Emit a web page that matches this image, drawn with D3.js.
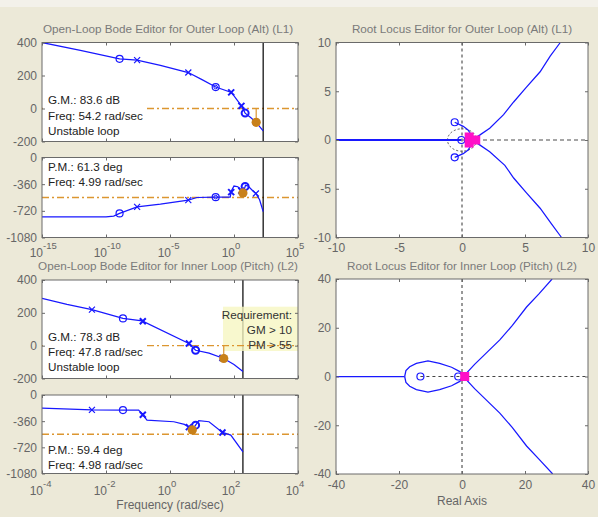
<!DOCTYPE html>
<html>
<head>
<meta charset="utf-8">
<script src="https://cdn.jsdelivr.net/npm/d3@7"></script>
<style>
  body { margin: 0; background: #ece9d8; }
</style>
</head>
<body>
<div id="container"></div>
<script>
/* CONSTANTS AND GLOBALS */
const width = 598,
  height = 517,
  font = "'Liberation Sans', Arial, sans-serif",
  blue = "#1818ff",
  orange = "#dc9630",
  orangeDot = "#c88019",
  magenta = "#ff10c8",
  axisColor = "#6a6a6a",
  labelColor = "#666666",
  titleColor = "#7a7a7a";

/* DATA */
// Bode curves: [log10(frequency rad/sec), dB or deg]
const outerMag = [[-15, 400], [-12, 352], [-8.94, 301], [-7.57, 293], [-5.75, 261], [-3.57, 218],
  [-2.5, 175], [-1.43, 130], [-0.2, 97], [0.58, 16], [0.87, -28], [1.3, -55], [1.73, -84], [2.28, -136]];
const outerPhase = [[-15, -800], [-10, -800], [-9.4, -790], [-8.94, -755], [-7.57, -667], [-5.75, -630],
  [-3.57, -576], [-2.9, -540], [-1.43, -535], [-0.3, -535], [-0.2, -450], [0, -385], [0.3, -395],
  [0.55, -440], [0.7, -479], [0.8, -430], [0.9, -375], [1.1, -385], [1.5, -455], [1.71, -486],
  [2.0, -570], [2.28, -730]];
const innerMag = [[-4, 288], [-3.22, 251], [-2.44, 220], [-1.47, 166], [-0.87, 151], [0.59, 13],
  [0.8, -28], [1.22, -45], [1.68, -78], [2.0, -115], [2.28, -158]];
const innerPhase = [[-4, -180], [-2.44, -205], [-1.47, -207], [-0.98, -207], [-0.84, -276], [-0.72, -345],
  [0.12, -368], [0.45, -405], [0.62, -450], [0.7, -480], [0.8, -415], [0.9, -354], [1.22, -368],
  [1.64, -515], [1.9, -551], [2.28, -782]];

// poles "x" and zeros "o" on the bode curves (capital = double)
const outerMarks = [[-8.94, "o"], [-7.57, "x"], [-3.57, "x"], [-1.43, "oo"], [-0.22, "X"], [0.58, "X"], [0.87, "O"], [1.71, "x"]];
const innerMarks = [[-2.44, "x"], [-1.47, "o"], [-0.85, "X"], [0.59, "X"], [0.8, "O"], [1.64, "X"]];

// margins
const outerGM = { dB: 83.6, freq: 54.2 }, outerPM = { deg: 61.3, freq: 4.99 };
const innerGM = { dB: 78.3, freq: 47.8 }, innerPM = { deg: 59.4, freq: 4.98 };
const nyquist = 190; // rad/sec
const pmLine = -540;

// root locus, outer loop (Alt)
const rlOuterReal = [[-10, 0], [-0.05, 0]];
const rlOuterZeroUp = [[-0.58, 1.82], [0.1, 1.4], [0.48, 1.03], [0.74, 0.51]];
const rlOuterZeroDn = [[-0.58, -1.78], [0.1, -1.4], [0.48, -1.03], [0.74, -0.51]];
const rlOuterUp = [[1.1, 0.25], [1.4, 0.5], [2.2, 1.2], [3.3, 2.6], [4.1, 3.9], [5.1, 5.4], [6.2, 7.0], [7.0, 8.6], [7.8, 10]];
const rlOuterDn = [[1.1, -0.25], [1.4, -0.5], [2.2, -1.2], [3.4, -2.6], [4.1, -3.9], [5.1, -5.4], [6.2, -7.0], [7.1, -8.6], [7.9, -10]];
const rlOuterZeros = [[-0.58, 1.82], [-0.58, -1.78], [-0.05, 0]];
const rlOuterPoles = [[0.57, 0.31], [0.57, -0.31], [1.09, 0]];
const rlOuterWn = 1.15;

// root locus, inner loop (Pitch)
const rlInnerReal = [[-40, 0], [-18.2, 0]];
const rlInnerLoopUp = [[-18.2, 0], [-17.8, 2.4], [-16.6, 4.0], [-14.5, 5.4], [-10.8, 6.4], [-7.1, 5.4], [-3.3, 3.8], [-0.7, 2.0], [0.3, 0.6]];
const rlInnerLoopDn = [[-18.2, 0], [-17.8, -2.4], [-16.6, -4.0], [-14.5, -5.4], [-10.8, -6.4], [-7.1, -5.4], [-3.3, -3.8], [-0.7, -2.0], [0.3, -0.6]];
const rlInnerUp = [[0.9, 0], [1.5, 1.5], [4, 5], [8, 10], [12, 15], [16, 21], [20.5, 28.5], [24.5, 34], [28.6, 40]];
const rlInnerDn = [[0.9, 0], [1.5, -1.5], [4, -5], [8, -10], [12, -15], [16, -21], [20.5, -28.5], [24.5, -34], [28.8, -40]];
const rlInnerZeros = [[-13.2, 0], [-1.2, 0]];
const rlInnerPoles = [[0.86, 0]];

// ticks and texts
const magTicks = [400, 200, 0, -200];
const phaseTicks = [0, -360, -720, -1080];
const outerFreqExp = [-15, -10, -5, 0, 5];
const innerFreqExp = [-4, -2, 0, 2, 4];
const rlOuterTicks = [-10, -5, 0, 5, 10];
const rlInnerTicks = [-40, -20, 0, 20, 40];
const titles = ["Open-Loop Bode Editor for Outer Loop (Alt) (L1)", "Open-Loop Bode Editor for Inner Loop (Pitch) (L2)",
  "Root Locus Editor for Outer Loop (Alt) (L1)", "Root Locus Editor for Inner Loop (Pitch) (L2)"];
const outerMagText = ["G.M.: 83.6 dB", "Freq: 54.2 rad/sec", "Unstable loop"];
const outerPhaseText = ["P.M.: 61.3 deg", "Freq: 4.99 rad/sec"];
const innerMagText = ["G.M.: 78.3 dB", "Freq: 47.8 rad/sec", "Unstable loop"];
const innerPhaseText = ["P.M.: 59.4 deg", "Freq: 4.98 rad/sec"];
const requirementText = ["Requirement:", "GM > 10", "PM > 55"];

/* SVG */
const svg = d3.select("#container")
  .append("svg")
  .attr("width", width)
  .attr("height", height)
  .style("display", "block");

svg.append("rect").attr("width", width).attr("height", height).attr("fill", "#ece9d8");
svg.append("rect").attr("width", width).attr("height", 7).attr("fill", "#f3f1ea");

const boxes = {
  oMag: { x0: 42, x1: 298, y0: 42.5, y1: 141.5 },
  oPh: { x0: 42, x1: 298, y0: 157.5, y1: 237.5 },
  iMag: { x0: 42, x1: 298, y0: 280, y1: 378.5 },
  iPh: { x0: 42, x1: 298, y0: 395, y1: 473.5 },
  oRL: { x0: 336, x1: 588, y0: 42.5, y1: 237.5 },
  iRL: { x0: 336, x1: 588, y0: 279, y1: 474 }
};

// SCALES
const xOuter = d3.scaleLog().domain([1e-15, 1e5]).range([42, 298]);
const xInner = d3.scaleLog().domain([1e-4, 1e4]).range([42, 298]);
const yMagO = d3.scaleLinear().domain([-200, 400]).range([boxes.oMag.y1, boxes.oMag.y0]);
const yPhO = d3.scaleLinear().domain([-1080, 0]).range([boxes.oPh.y1, boxes.oPh.y0]);
const yMagI = d3.scaleLinear().domain([-200, 400]).range([boxes.iMag.y1, boxes.iMag.y0]);
const yPhI = d3.scaleLinear().domain([-1080, 0]).range([boxes.iPh.y1, boxes.iPh.y0]);
const rxO = d3.scaleLinear().domain([-10, 10]).range([boxes.oRL.x0, boxes.oRL.x1]);
const ryO = d3.scaleLinear().domain([-10, 10]).range([boxes.oRL.y1, boxes.oRL.y0]);
const rxI = d3.scaleLinear().domain([-40, 40]).range([boxes.iRL.x0, boxes.iRL.x1]);
const ryI = d3.scaleLinear().domain([-40, 40]).range([boxes.iRL.y1, boxes.iRL.y0]);

// HELPERS
function makePanel(id, b) {
  svg.append("clipPath").attr("id", id).append("rect")
    .attr("x", b.x0).attr("y", b.y0).attr("width", b.x1 - b.x0).attr("height", b.y1 - b.y0);
  svg.append("rect")
    .attr("x", b.x0).attr("y", b.y0).attr("width", b.x1 - b.x0).attr("height", b.y1 - b.y0)
    .attr("fill", "#fff");
  return svg.append("g").attr("clip-path", `url(#${id})`);
}

function styleAxis(sel) {
  sel.select(".domain").remove();
  sel.selectAll(".tick line").attr("stroke", axisColor);
  sel.selectAll(".tick text").attr("fill", labelColor).attr("font-size", 12).attr("font-family", font);
}

function frame(b, x, y, xTicks, yTicks, xLabels) {
  svg.append("g").attr("transform", `translate(${b.x0},0)`)
    .call(d3.axisLeft(y).tickValues(yTicks).tickSize(-3).tickPadding(5).tickFormat(d => String(d)))
    .call(styleAxis);
  svg.append("g").attr("transform", `translate(${b.x1},0)`)
    .call(d3.axisRight(y).tickValues(yTicks).tickSize(-3).tickFormat(""))
    .call(styleAxis);
  svg.append("g").attr("transform", `translate(0,${b.y1})`)
    .call(d3.axisBottom(x).tickValues(xTicks).tickSize(-3).tickPadding(6)
      .tickFormat(xLabels ? (d => String(d)) : ""))
    .call(styleAxis);
  svg.append("g").attr("transform", `translate(0,${b.y0})`)
    .call(d3.axisTop(x).tickValues(xTicks).tickSize(-3).tickFormat(""))
    .call(styleAxis);
  svg.append("rect")
    .attr("x", b.x0).attr("y", b.y0).attr("width", b.x1 - b.x0).attr("height", b.y1 - b.y0)
    .attr("fill", "none").attr("stroke", axisColor).attr("stroke-width", 1);
}

function freqLabels(x, exps, baseY) {
  exps.forEach(e => {
    svg.append("text").attr("x", x(10 ** e) + 1).attr("y", baseY)
      .attr("text-anchor", "end").attr("font-family", font).attr("font-size", 12)
      .attr("fill", labelColor).text("10");
    svg.append("text").attr("x", x(10 ** e) + 1).attr("y", baseY - 8)
      .attr("font-family", font).attr("font-size", 9.5)
      .attr("fill", labelColor).text(String(e));
  });
}

function valueAt(curve, lf) {
  const i = d3.bisector(d => d[0]).left(curve, lf);
  const a = curve[Math.max(i - 1, 0)], b = curve[Math.min(i, curve.length - 1)];
  if (a === b) return a[1];
  return a[1] + (b[1] - a[1]) * (lf - a[0]) / (b[0] - a[0]);
}

function marker(g, type, cx, cy) {
  const sw = (type === "O" || type === "X") ? 2 : 1.2;
  if (type.toLowerCase().startsWith("o")) {
    g.append("circle").attr("cx", cx).attr("cy", cy).attr("r", 3.5)
      .attr("fill", "none").attr("stroke", blue).attr("stroke-width", sw);
    if (type === "oo") {
      g.append("circle").attr("cx", cx).attr("cy", cy).attr("r", 1.8)
        .attr("fill", "none").attr("stroke", blue).attr("stroke-width", 1);
    }
  } else {
    g.append("path")
      .attr("d", `M${cx - 3},${cy - 3}L${cx + 3},${cy + 3}M${cx - 3},${cy + 3}L${cx + 3},${cy - 3}`)
      .attr("stroke", blue).attr("stroke-width", sw);
  }
}

function bodeCurve(g, x, y, curve, marks) {
  const line = d3.line().x(d => x(10 ** d[0])).y(d => y(d[1]));
  g.append("path").attr("d", line(curve)).attr("fill", "none").attr("stroke", blue).attr("stroke-width", 1.25);
  marks.forEach(([lf, type]) => marker(g, type, x(10 ** lf), y(valueAt(curve, lf))));
}

function textBlock(g, lines, x0, x1, top, bottom, baseline0) {
  g.append("rect").attr("x", x0).attr("y", top).attr("width", x1 - x0).attr("height", bottom - top).attr("fill", "#fff");
  lines.forEach((t, i) => {
    g.append("text").attr("x", x0 + 5).attr("y", baseline0 + i * 15.2)
      .attr("font-family", font).attr("font-size", 11.7).attr("fill", "#222").text(t);
  });
}

function nyquistLine(g, x, b) {
  g.append("line").attr("x1", x(nyquist)).attr("x2", x(nyquist)).attr("y1", b.y0).attr("y2", b.y1)
    .attr("stroke", "#000").attr("stroke-width", 1.2);
}

function marginLine(g, x, y, level, b) {
  g.append("line").attr("x1", b.x0).attr("x2", b.x1).attr("y1", y(level)).attr("y2", y(level))
    .attr("stroke", orange).attr("stroke-width", 1.3).attr("stroke-dasharray", "7,3,2,3");
}

function marginDot(g, x, y, freq, level, value) {
  g.append("line").attr("x1", x(freq)).attr("x2", x(freq)).attr("y1", y(level)).attr("y2", y(value))
    .attr("stroke", orange).attr("stroke-width", 1.2);
  g.append("circle").attr("cx", x(freq)).attr("cy", y(value)).attr("r", 4.6).attr("fill", orangeDot);
}

function title(t, cx, y) {
  svg.append("text").attr("x", cx).attr("y", y).attr("text-anchor", "middle")
    .attr("font-family", font).attr("font-size", 11.7).attr("fill", titleColor).text(t);
}

/* OUTER LOOP BODE */
const gA = makePanel("cA", boxes.oMag);
marginLine(gA, xOuter, yMagO, 0, boxes.oMag);
textBlock(gA, outerMagText, 43, 147, 93, 140, 104.3);
nyquistLine(gA, xOuter, boxes.oMag);
bodeCurve(gA, xOuter, yMagO, outerMag, outerMarks);
marginDot(gA, xOuter, yMagO, outerGM.freq, 0, -outerGM.dB);
frame(boxes.oMag, xOuter, yMagO, outerFreqExp.map(e => 10 ** e), magTicks, false);

const gB = makePanel("cB", boxes.oPh);
marginLine(gB, xOuter, yPhO, pmLine, boxes.oPh);
textBlock(gB, outerPhaseText, 43, 147, 159, 190, 171);
nyquistLine(gB, xOuter, boxes.oPh);
bodeCurve(gB, xOuter, yPhO, outerPhase, outerMarks);
marginDot(gB, xOuter, yPhO, outerPM.freq, pmLine, pmLine + outerPM.deg);
frame(boxes.oPh, xOuter, yPhO, outerFreqExp.map(e => 10 ** e), phaseTicks, false);
freqLabels(xOuter, outerFreqExp, 256.5);

/* INNER LOOP BODE */
const gC = makePanel("cC", boxes.iMag);
nyquistLine(gC, xInner, boxes.iMag);
gC.append("rect").attr("x", 223).attr("y", 306.7).attr("width", 76).attr("height", 44.3)
  .attr("fill", "#f6f6c0").attr("opacity", 0.78);
marginLine(gC, xInner, yMagI, 0, boxes.iMag);
textBlock(gC, innerMagText, 43, 144, 329, 377, 341);
bodeCurve(gC, xInner, yMagI, innerMag, innerMarks);
marginDot(gC, xInner, yMagI, innerGM.freq, 0, -innerGM.dB);
requirementText.forEach((t, i) => {
  gC.append("text").attr("x", 292).attr("y", 318.5 + i * 15.1).attr("text-anchor", "end")
    .attr("font-family", font).attr("font-size", 11.7).attr("fill", "#333").text(t);
});
frame(boxes.iMag, xInner, yMagI, innerFreqExp.map(e => 10 ** e), magTicks, false);

const gD = makePanel("cD", boxes.iPh);
marginLine(gD, xInner, yPhI, pmLine, boxes.iPh);
nyquistLine(gD, xInner, boxes.iPh);
bodeCurve(gD, xInner, yPhI, innerPhase, innerMarks);
marginDot(gD, xInner, yPhI, innerPM.freq, pmLine, pmLine + innerPM.deg);
textBlock(gD, innerPhaseText, 43, 147, 442, 472, 453.7);
frame(boxes.iPh, xInner, yPhI, innerFreqExp.map(e => 10 ** e), phaseTicks, false);
freqLabels(xInner, innerFreqExp, 495);

svg.append("text").attr("x", 170).attr("y", 509).attr("text-anchor", "middle")
  .attr("font-family", font).attr("font-size", 12).attr("fill", labelColor).text("Frequency (rad/sec)");

/* ROOT LOCUS */
function locus(g, x, y, pts, w) {
  const line = d3.line().x(d => x(d[0])).y(d => y(d[1]));
  g.append("path").attr("d", line(pts)).attr("fill", "none").attr("stroke", blue).attr("stroke-width", w || 1.25);
}
function squares(g, x, y, pts) {
  pts.forEach(p => g.append("rect").attr("x", x(p[0]) - 4.5).attr("y", y(p[1]) - 4.5)
    .attr("width", 9).attr("height", 9).attr("fill", magenta));
}
function zeros(g, x, y, pts) {
  pts.forEach(p => g.append("circle").attr("cx", x(p[0])).attr("cy", y(p[1])).attr("r", 3.5)
    .attr("fill", "none").attr("stroke", blue).attr("stroke-width", 1.2));
}

const gE = makePanel("cE", boxes.oRL);
gE.append("line").attr("x1", rxO(0)).attr("x2", rxO(0)).attr("y1", boxes.oRL.y0).attr("y2", boxes.oRL.y1)
  .attr("stroke", "#333").attr("stroke-dasharray", "3,3");
gE.append("line").attr("x1", rxO(0)).attr("x2", boxes.oRL.x1).attr("y1", ryO(0)).attr("y2", ryO(0))
  .attr("stroke", "#888").attr("stroke-width", 1.5).attr("stroke-dasharray", "4,3");
gE.append("ellipse").attr("cx", rxO(0)).attr("cy", ryO(0))
  .attr("rx", rxO(rlOuterWn) - rxO(0)).attr("ry", ryO(0) - ryO(rlOuterWn))
  .attr("fill", "none").attr("stroke", "#555").attr("stroke-dasharray", "2,2");
locus(gE, rxO, ryO, rlOuterReal, 2);
[rlOuterZeroUp, rlOuterZeroDn, rlOuterUp, rlOuterDn].forEach(p => locus(gE, rxO, ryO, p));
zeros(gE, rxO, ryO, rlOuterZeros);
squares(gE, rxO, ryO, rlOuterPoles);
frame(boxes.oRL, rxO, ryO, rlOuterTicks, rlOuterTicks, true);

const gF = makePanel("cF", boxes.iRL);
gF.append("line").attr("x1", rxI(0)).attr("x2", rxI(0)).attr("y1", boxes.iRL.y0).attr("y2", boxes.iRL.y1)
  .attr("stroke", "#333").attr("stroke-dasharray", "3,3");
gF.append("line").attr("x1", rxI(rlInnerZeros[0][0])).attr("x2", boxes.iRL.x1).attr("y1", ryI(0)).attr("y2", ryI(0))
  .attr("stroke", "#444").attr("stroke-dasharray", "3,3");
[rlInnerReal, rlInnerLoopUp, rlInnerLoopDn, rlInnerUp, rlInnerDn].forEach(p => locus(gF, rxI, ryI, p));
zeros(gF, rxI, ryI, rlInnerZeros);
squares(gF, rxI, ryI, rlInnerPoles);
frame(boxes.iRL, rxI, ryI, rlInnerTicks, rlInnerTicks, true);

svg.append("text").attr("x", 462).attr("y", 505).attr("text-anchor", "middle")
  .attr("font-family", font).attr("font-size", 12).attr("fill", labelColor).text("Real Axis");

/* TITLES */
title(titles[0], 168, 32.5);
title(titles[1], 168, 269.5);
title(titles[2], 462, 32.5);
title(titles[3], 462, 269.5);
</script>
</body>
</html>
